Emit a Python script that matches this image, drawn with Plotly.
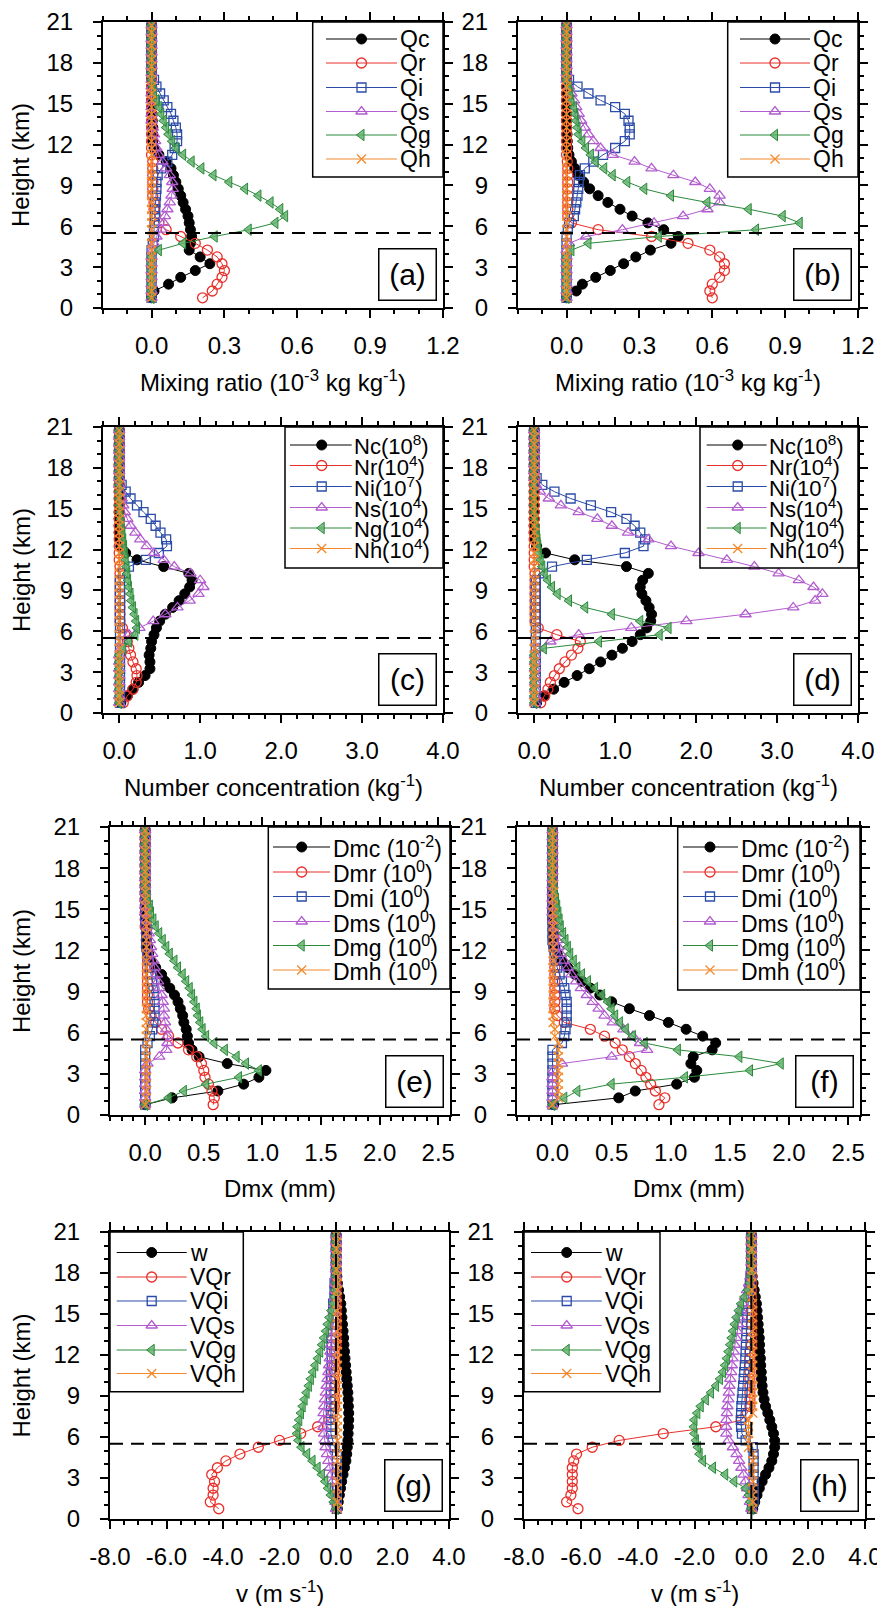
import plotly.graph_objects as go

# page geometry: the html body adds an 8 px margin, so the figure is drawn
# 8 px in from the page corner; all layout positions below are page pixels.
PAGE_W, PAGE_H = 885, 1606
OFF = 8
FW, FH = PAGE_W - OFF, PAGE_H - OFF
FONT = "Liberation Sans, Arial, Helvetica, sans-serif"


def fx(px):
    return (px - OFF) / FW


def fy(py):
    return 1 - (py - OFF) / FH


# ---------------- vertical levels (km) ----------------
heights = [0.75, 1.25, 1.75, 2.25, 2.75, 3.25, 3.75, 4.25, 4.75, 5.25,
           5.75, 6.25, 6.75, 7.25, 7.75, 8.25, 8.75, 9.25, 9.75, 10.25,
           10.75, 11.25, 11.75, 12.25, 12.75, 13.25, 13.75, 14.25, 14.75, 15.25,
           15.75, 16.25, 16.75, 17.25, 17.75, 18.25, 18.75, 19.25, 19.75, 20.25, 20.75]

# ---------------- (a) mixing ratio ----------------
qc_a = [0.00, 0.01, 0.07, 0.12, 0.18, 0.24, 0.20, 0.155, 0.16, 0.165,
        0.16, 0.155, 0.15, 0.14, 0.13, 0.12, 0.11, 0.10, 0.09, 0.08,
        0.06, 0.03, 0.01, 0.005, 0.005, 0.005, 0.003, 0.002, 0.001, 0,
        0, 0, 0, 0, 0, 0, 0, 0, 0, 0, 0]
qr_a = [0.21, 0.25, 0.27, 0.29, 0.30, 0.29, 0.27, 0.23, 0.18, 0.12,
        0.06, 0.03, 0.015, 0.01, 0.01, 0.005, 0.005, 0.005, 0.005, 0.005,
        0.005, 0, 0, 0, 0, 0, 0, 0, 0, 0,
        0, 0, 0, 0, 0, 0, 0, 0, 0, 0, 0]
qi_a = [0, 0, 0, 0, 0, 0, 0, 0, 0.005, 0.01,
        0.01, 0.012, 0.014, 0.015, 0.016, 0.018, 0.02, 0.02, 0.025, 0.04,
        0.065, 0.085, 0.095, 0.105, 0.105, 0.10, 0.09, 0.08, 0.065, 0.05,
        0.035, 0.02, 0.01, 0, 0, 0, 0, 0, 0, 0, 0]
qs_a = [0, 0, 0, 0, 0, 0, 0, 0.005, 0.01, 0.02,
        0.04, 0.05, 0.055, 0.065, 0.075, 0.082, 0.087, 0.085, 0.075, 0.06,
        0.045, 0.03, 0.02, 0.015, 0.01, 0.005, 0, 0, 0, 0,
        0, 0, 0, 0, 0, 0, 0, 0, 0, 0, 0]
qg_a = [0, 0, 0, 0, 0, 0, 0, 0.03, 0.13, 0.26,
        0.40, 0.51, 0.55, 0.53, 0.49, 0.44, 0.385, 0.32, 0.255, 0.205,
        0.165, 0.13, 0.10, 0.085, 0.07, 0.06, 0.05, 0.04, 0.03, 0.02,
        0.01, 0.005, 0, 0, 0, 0, 0, 0, 0, 0, 0]
qh_a = [0, 0, 0, 0, 0, 0, 0, 0, 0, 0,
        0, 0, 0, 0, 0, 0, 0, 0, 0, 0,
        0, 0, 0, 0, 0, 0, 0, 0, 0, 0,
        0, 0, 0, 0, 0, 0, 0, 0, 0, 0, 0]

# ---------------- (b) mixing ratio ----------------
qc_b = [0.00, 0.04, 0.065, 0.12, 0.18, 0.235, 0.285, 0.345, 0.43, 0.46,
        0.40, 0.335, 0.27, 0.22, 0.17, 0.13, 0.095, 0.07, 0.048, 0.034,
        0.02, 0.01, 0.005, 0.003, 0.002, 0.001, 0, 0, 0, 0,
        0, 0, 0, 0, 0, 0, 0, 0, 0, 0, 0]
qr_b = [0.60, 0.59, 0.60, 0.63, 0.65, 0.65, 0.63, 0.59, 0.50, 0.35,
        0.13, 0.02, 0.005, 0.005, 0.005, 0.005, 0.005, 0.005, 0.005, 0.005,
        0.003, 0, 0, 0, 0, 0, 0, 0, 0, 0,
        0, 0, 0, 0, 0, 0, 0, 0, 0, 0, 0]
qi_b = [0, 0, 0, 0, 0, 0, 0, 0, 0, 0,
        0.005, 0.01, 0.03, 0.035, 0.04, 0.045, 0.048, 0.05, 0.055, 0.075,
        0.11, 0.15, 0.20, 0.24, 0.26, 0.26, 0.255, 0.24, 0.20, 0.14,
        0.09, 0.045, 0.01, 0, 0, 0, 0, 0, 0, 0, 0]
qs_b = [0, 0, 0, 0, 0, 0, 0, 0, 0.01, 0.08,
        0.23, 0.36, 0.48, 0.58, 0.63, 0.63, 0.59, 0.53, 0.44, 0.35,
        0.28, 0.19, 0.14, 0.11, 0.09, 0.075, 0.06, 0.05, 0.04, 0.03,
        0.02, 0.01, 0, 0, 0, 0, 0, 0, 0, 0, 0]
qg_b = [0, 0, 0, 0, 0, 0, 0, 0.02, 0.09, 0.38,
        0.78, 0.96, 0.89, 0.75, 0.58, 0.43, 0.32, 0.25, 0.19, 0.155,
        0.12, 0.10, 0.08, 0.065, 0.05, 0.045, 0.04, 0.035, 0.03, 0.02,
        0.015, 0.01, 0, 0, 0, 0, 0, 0, 0, 0, 0]
qh_b = [0, 0, 0, 0, 0, 0, 0, 0, 0, 0,
        0, 0, 0, 0, 0, 0, 0, 0, 0, 0,
        0, 0, 0, 0, 0, 0, 0, 0, 0, 0,
        0, 0, 0, 0, 0, 0, 0, 0, 0, 0, 0]

# ---------------- (c) number concentration ----------------
nc_c = [0.02, 0.10, 0.17, 0.24, 0.32, 0.38, 0.38, 0.37, 0.39, 0.40,
        0.43, 0.46, 0.50, 0.57, 0.66, 0.74, 0.81, 0.87, 0.90, 0.86,
        0.55, 0.22, 0.08, 0.02, 0.01, 0, 0, 0, 0, 0,
        0, 0, 0, 0, 0, 0, 0, 0, 0, 0, 0]
nr_c = [0.05, 0.10, 0.17, 0.21, 0.22, 0.21, 0.17, 0.14, 0.12, 0.10,
        0.07, 0.04, 0.01, 0.01, 0.01, 0.01, 0.01, 0.01, 0.01, 0.01,
        0.01, 0, 0, 0, 0, 0, 0, 0, 0, 0,
        0, 0, 0, 0, 0, 0, 0, 0, 0, 0, 0]
ni_c = [0.01, 0.01, 0.01, 0.01, 0.01, 0.01, 0.01, 0.01, 0.01, 0.01,
        0.01, 0.01, 0.01, 0.01, 0.01, 0.01, 0.01, 0.01, 0.01, 0.05,
        0.12, 0.33, 0.49, 0.59, 0.58, 0.51, 0.45, 0.39, 0.30, 0.22,
        0.14, 0.08, 0.03, 0, 0, 0, 0, 0, 0, 0, 0]
ns_c = [0, 0, 0, 0, 0, 0, 0, 0, 0.02, 0.05,
        0.12, 0.25, 0.42, 0.57, 0.72, 0.87, 0.98, 1.04, 1.00, 0.88,
        0.68, 0.55, 0.43, 0.34, 0.26, 0.20, 0.14, 0.10, 0.07, 0.05,
        0.03, 0.01, 0, 0, 0, 0, 0, 0, 0, 0, 0]
ng_c = [0, 0, 0, 0, 0, 0, 0, 0, 0.05, 0.12,
        0.20, 0.22, 0.21, 0.19, 0.17, 0.15, 0.14, 0.12, 0.11, 0.10,
        0.09, 0.08, 0.07, 0.06, 0.05, 0.04, 0.03, 0.02, 0.01, 0,
        0, 0, 0, 0, 0, 0, 0, 0, 0, 0, 0]
nh_c = [0, 0, 0, 0, 0, 0, 0, 0, 0, 0,
        0, 0, 0, 0, 0, 0, 0, 0, 0, 0,
        0, 0, 0, 0, 0, 0, 0, 0, 0, 0,
        0, 0, 0, 0, 0, 0, 0, 0, 0, 0, 0]

# ---------------- (d) number concentration ----------------
nc_d = [0.03, 0.12, 0.24, 0.37, 0.53, 0.68, 0.82, 0.96, 1.09, 1.21,
        1.31, 1.39, 1.44, 1.45, 1.42, 1.38, 1.33, 1.31, 1.34, 1.41,
        1.14, 0.50, 0.14, 0.03, 0.01, 0, 0, 0, 0, 0,
        0, 0, 0, 0, 0, 0, 0, 0, 0, 0, 0]
nr_d = [0.08, 0.13, 0.17, 0.20, 0.25, 0.31, 0.38, 0.46, 0.54, 0.57,
        0.28, 0.05, 0.01, 0.01, 0.01, 0.01, 0.01, 0.01, 0.01, 0.01,
        0, 0, 0, 0, 0, 0, 0, 0, 0, 0,
        0, 0, 0, 0, 0, 0, 0, 0, 0, 0, 0]
ni_d = [0.02, 0.02, 0.02, 0.02, 0.02, 0.02, 0.02, 0.02, 0.02, 0.02,
        0.02, 0.02, 0.02, 0.02, 0.02, 0.02, 0.02, 0.02, 0.02, 0.06,
        0.22, 0.65, 1.12, 1.35, 1.37, 1.31, 1.24, 1.14, 0.95, 0.70,
        0.45, 0.25, 0.10, 0.03, 0, 0, 0, 0, 0, 0, 0]
ns_d = [0.01, 0.01, 0.01, 0.01, 0.01, 0.01, 0.01, 0.01, 0.05, 0.20,
        0.55, 1.20, 1.88, 2.61, 3.20, 3.47, 3.56, 3.45, 3.27, 3.02,
        2.72, 2.38, 2.03, 1.69, 1.41, 1.16, 0.96, 0.78, 0.55, 0.33,
        0.18, 0.07, 0.02, 0, 0, 0, 0, 0, 0, 0, 0]
ng_d = [0, 0, 0, 0, 0, 0, 0, 0, 0.12, 0.80,
        1.55, 1.66, 1.31, 0.96, 0.63, 0.43, 0.29, 0.22, 0.17, 0.13,
        0.10, 0.08, 0.06, 0.05, 0.04, 0.03, 0.02, 0.01, 0, 0,
        0, 0, 0, 0, 0, 0, 0, 0, 0, 0, 0]
nh_d = [0, 0, 0, 0, 0, 0, 0, 0, 0, 0,
        0, 0, 0, 0, 0, 0, 0, 0, 0, 0,
        0, 0, 0, 0, 0, 0, 0, 0, 0, 0,
        0, 0, 0, 0, 0, 0, 0, 0, 0, 0, 0]

# ---------------- (e) mean diameter ----------------
dmc_e = [0.00, 0.23, 0.62, 0.84, 0.97, 1.03, 0.70, 0.46, 0.40, 0.37,
         0.36, 0.35, 0.33, 0.32, 0.30, 0.28, 0.25, 0.21, 0.17, 0.14,
         0.09, 0.05, 0.03, 0.02, 0.01, 0.01, 0.01, 0.01, 0.01, 0.01,
         0, 0, 0, 0, 0, 0, 0, 0, 0, 0, 0]
dmr_e = [0.58, 0.59, 0.57, 0.54, 0.51, 0.50, 0.48, 0.44, 0.37, 0.28,
         0.20, 0.14, 0.09, 0.05, 0.03, 0.02, 0.02, 0.02, 0.02, 0.02,
         0.02, 0.02, 0.02, 0.01, 0.01, 0.01, 0, 0, 0, 0,
         0, 0, 0, 0, 0, 0, 0, 0, 0, 0, 0]
dmi_e = [0, 0, 0, 0, 0, 0, 0, 0, 0, 0.02,
         0.04, 0.06, 0.07, 0.08, 0.08, 0.08, 0.075, 0.07, 0.06, 0.05,
         0.04, 0.03, 0.02, 0.01, 0.01, 0.01, 0.01, 0, 0, 0,
         0, 0, 0, 0, 0, 0, 0, 0, 0, 0, 0]
dms_e = [0, 0, 0, 0, 0, 0, 0.02, 0.12, 0.18, 0.19,
         0.19, 0.18, 0.17, 0.16, 0.16, 0.15, 0.14, 0.12, 0.11, 0.10,
         0.08, 0.07, 0.06, 0.05, 0.04, 0.03, 0.02, 0.01, 0, 0,
         0, 0, 0, 0, 0, 0, 0, 0, 0, 0, 0]
dmg_e = [0.00, 0.20, 0.33, 0.52, 0.80, 0.97, 0.86, 0.78, 0.68, 0.59,
         0.52, 0.49, 0.47, 0.45, 0.44, 0.42, 0.40, 0.38, 0.35, 0.32,
         0.28, 0.25, 0.21, 0.18, 0.15, 0.12, 0.09, 0.07, 0.05, 0.04,
         0.02, 0.01, 0, 0, 0, 0, 0, 0, 0, 0, 0]
dmh_e = [0, 0.01, 0.01, 0.01, 0.01, 0.01, 0.01, 0.01, 0.01, 0.01,
         0.01, 0.01, 0.01, 0.01, 0.01, 0.01, 0.01, 0.01, 0.01, 0.01,
         0.01, 0.01, 0.01, 0.01, 0.01, 0.01, 0.01, 0.01, 0.01, 0,
         0, 0, 0, 0, 0, 0, 0, 0, 0, 0, 0]

# ---------------- (f) mean diameter ----------------
dmc_f = [0.01, 0.56, 0.70, 1.05, 1.20, 1.22, 1.17, 1.19, 1.35, 1.38,
         1.27, 1.13, 0.98, 0.82, 0.65, 0.50, 0.40, 0.32, 0.25, 0.19,
         0.13, 0.08, 0.04, 0.02, 0.01, 0.01, 0.01, 0.01, 0.01, 0.01,
         0.01, 0, 0, 0, 0, 0, 0, 0, 0, 0, 0]
dmr_f = [0.90, 0.95, 0.87, 0.83, 0.79, 0.75, 0.70, 0.65, 0.59, 0.53,
         0.44, 0.32, 0.10, 0.04, 0.02, 0.02, 0.02, 0.02, 0.02, 0.02,
         0.02, 0.02, 0.02, 0.01, 0.01, 0.01, 0.01, 0, 0, 0,
         0, 0, 0, 0, 0, 0, 0, 0, 0, 0, 0]
dmi_f = [0, 0, 0, 0, 0, 0, 0, 0, 0, 0.08,
         0.10, 0.11, 0.12, 0.12, 0.12, 0.12, 0.11, 0.10, 0.08, 0.06,
         0.04, 0.03, 0.02, 0.01, 0, 0, 0, 0, 0, 0,
         0, 0, 0, 0, 0, 0, 0, 0, 0, 0, 0]
dms_f = [0, 0, 0, 0, 0, 0.01, 0.08, 0.50, 0.80, 0.74,
         0.68, 0.60, 0.51, 0.44, 0.39, 0.34, 0.29, 0.24, 0.20, 0.16,
         0.13, 0.10, 0.07, 0.05, 0.04, 0.03, 0.02, 0.01, 0, 0,
         0, 0, 0, 0, 0, 0, 0, 0, 0, 0, 0]
dmg_f = [0.00, 0.10, 0.21, 0.50, 1.12, 1.67, 1.93, 1.58, 1.06, 0.78,
         0.68, 0.62, 0.57, 0.53, 0.50, 0.47, 0.42, 0.36, 0.30, 0.25,
         0.21, 0.18, 0.15, 0.13, 0.11, 0.09, 0.07, 0.06, 0.05, 0.04,
         0.03, 0.02, 0.01, 0, 0, 0, 0, 0, 0, 0, 0]
dmh_f = [0.00, 0.05, 0.05, 0.05, 0.05, 0.05, 0.05, 0.05, 0.05, 0.05,
         0.02, 0.02, 0.005, 0.005, 0.005, 0.005, 0.005, 0.005, 0.005, 0.005,
         0.005, 0.005, 0.005, 0.005, 0.005, 0.005, 0.005, 0.005, 0.005, 0.005,
         0.005, 0.005, 0.005, 0, 0, 0, 0, 0, 0, 0, 0]

# ---------------- (g) velocities ----------------
w_g = [0.05, 0.08, 0.12, 0.16, 0.20, 0.25, 0.30, 0.35, 0.38, 0.40,
       0.42, 0.43, 0.44, 0.45, 0.45, 0.44, 0.43, 0.42, 0.40, 0.38,
       0.36, 0.34, 0.32, 0.30, 0.28, 0.27, 0.25, 0.23, 0.21, 0.19,
       0.17, 0.13, 0.09, 0.05, 0.03, 0.01, 0.01, 0.01, 0.01, 0.01, 0.01]
vqr_g = [-4.15, -4.45, -4.35, -4.35, -4.30, -4.40, -4.20, -3.90, -3.40, -2.75,
         -2.00, -1.25, -0.65, -0.25, -0.10, -0.05, -0.05, -0.05, -0.05, -0.05,
         -0.05, -0.05, -0.05, -0.05, 0, 0, 0, 0, 0, 0,
         0, 0, 0, 0, 0, 0, 0, 0, 0, 0, 0]
vqi_g = [0.03, 0.03, 0.03, 0.03, 0.03, 0.03, 0.03, 0.03, 0.03, -0.05,
         -0.12, -0.18, -0.18, -0.18, -0.18, -0.18, -0.18, -0.18, -0.18, -0.18,
         -0.18, -0.15, -0.15, -0.15, -0.15, -0.15, -0.15, -0.10, -0.10, -0.10,
         -0.10, -0.05, -0.05, -0.05, 0, 0, 0, 0, 0, 0, 0]
vqs_g = [0.00, -0.02, -0.05, -0.08, -0.12, -0.17, -0.22, -0.27, -0.32, -0.37,
         -0.40, -0.42, -0.44, -0.44, -0.44, -0.42, -0.39, -0.36, -0.33, -0.30,
         -0.27, -0.24, -0.22, -0.20, -0.18, -0.16, -0.14, -0.12, -0.10, -0.08,
         -0.06, -0.04, -0.03, -0.02, -0.01, 0, 0, 0, 0, 0, 0]
vqg_g = [0.00, -0.08, -0.18, -0.28, -0.38, -0.50, -0.65, -0.83, -1.02, -1.22,
         -1.33, -1.38, -1.36, -1.30, -1.24, -1.18, -1.11, -1.04, -0.96, -0.89,
         -0.81, -0.73, -0.64, -0.56, -0.49, -0.42, -0.35, -0.29, -0.23, -0.16,
         -0.09, -0.05, -0.02, 0, 0, 0, 0, 0, 0, 0, 0]
vqh_g = [0.05, 0.05, 0.05, 0.05, 0.05, 0.05, 0.05, 0.05, 0.05, 0.05,
         0.05, 0.05, 0.05, 0.05, 0.05, 0.05, 0.05, 0.05, 0.05, 0.05,
         0.05, 0.05, 0.05, 0.05, 0.05, 0.05, 0.05, 0.05, 0.05, 0.05,
         0.05, 0.05, 0.05, 0.05, 0.05, 0.02, 0.02, 0.02, 0.02, 0.02, 0.02]

# ---------------- (h) velocities ----------------
w_h = [0.05, 0.12, 0.20, 0.28, 0.38, 0.50, 0.62, 0.72, 0.78, 0.82,
       0.82, 0.78, 0.72, 0.65, 0.58, 0.50, 0.45, 0.41, 0.38, 0.36,
       0.35, 0.33, 0.32, 0.30, 0.29, 0.28, 0.26, 0.24, 0.22, 0.20,
       0.18, 0.14, 0.10, 0.06, 0.03, 0.01, 0.01, 0.01, 0.01, 0.01, 0.01]
vqr_h = [-6.10, -6.50, -6.35, -6.30, -6.30, -6.30, -6.30, -6.25, -6.15, -5.60,
         -4.65, -3.10, -1.25, -0.35, -0.15, -0.05, -0.05, -0.05, -0.05, -0.05,
         -0.05, -0.05, -0.05, -0.05, 0, 0, 0, 0, 0, 0,
         0, 0, 0, 0, 0, 0, 0, 0, 0, 0, 0]
vqi_h = [0.02, 0.08, 0.08, 0.08, 0.08, 0.08, 0.08, 0.08, 0.08, 0.05,
         -0.20, -0.33, -0.36, -0.37, -0.36, -0.35, -0.33, -0.31, -0.29, -0.27,
         -0.25, -0.23, -0.21, -0.20, -0.19, -0.18, -0.17, -0.16, -0.15, -0.14,
         -0.12, -0.10, -0.08, -0.05, -0.03, 0, 0, 0, 0, 0, 0]
vqs_h = [0.00, -0.05, -0.10, -0.15, -0.20, -0.27, -0.35, -0.43, -0.52, -0.65,
         -0.80, -0.88, -0.89, -0.88, -0.86, -0.84, -0.81, -0.79, -0.77, -0.74,
         -0.71, -0.69, -0.66, -0.62, -0.58, -0.54, -0.50, -0.46, -0.42, -0.36,
         -0.29, -0.22, -0.15, -0.08, -0.03, 0, 0, 0, 0, 0, 0]
vqg_h = [0.00, -0.03, -0.08, -0.20, -0.60, -0.92, -1.35, -1.70, -1.82, -1.88,
         -1.95, -2.00, -2.02, -2.00, -1.90, -1.78, -1.60, -1.42, -1.24, -1.10,
         -1.00, -0.92, -0.86, -0.80, -0.74, -0.69, -0.64, -0.58, -0.52, -0.44,
         -0.36, -0.24, -0.12, -0.05, -0.02, 0, 0, 0, 0, 0, 0]
vqh_h = [0.05, 0.05, 0.05, 0.05, 0.05, 0.05, 0.05, 0.05, 0.05, -0.10,
         -0.10, -0.10, -0.10, -0.10, 0.05, 0.05, 0.05, 0.05, 0.05, 0.05,
         0.05, 0.05, 0.05, 0.05, 0.05, 0.05, 0.05, 0.05, 0.05, 0.05,
         0.05, 0.02, 0.02, 0.02, 0.02, 0.02, 0.02, 0.02, 0.02, 0.02, 0.02]

# ---------------- labels and ticks ----------------
labels_q = ["Qc", "Qr", "Qi", "Qs", "Qg", "Qh"]
labels_n = ["Nc(10<sup>8</sup>)", "Nr(10<sup>4</sup>)", "Ni(10<sup>7</sup>)",
            "Ns(10<sup>4</sup>)", "Ng(10<sup>4</sup>)", "Nh(10<sup>4</sup>)"]
labels_d = ["Dmc (10<sup>-2</sup>)", "Dmr (10<sup>0</sup>)", "Dmi (10<sup>0</sup>)",
            "Dms (10<sup>0</sup>)", "Dmg (10<sup>0</sup>)", "Dmh (10<sup>0</sup>)"]
labels_v = ["w", "VQr", "VQi", "VQs", "VQg", "VQh"]

xt_q = [0.0, 0.3, 0.6, 0.9, 1.2]
xl_q = ["0.0", "0.3", "0.6", "0.9", "1.2"]
xt_n = [0.0, 1.0, 2.0, 3.0, 4.0]
xl_n = ["0.0", "1.0", "2.0", "3.0", "4.0"]
xt_d = [0.0, 0.5, 1.0, 1.5, 2.0, 2.5]
xl_d = ["0.0", "0.5", "1.0", "1.5", "2.0", "2.5"]
xt_v = [-8, -6, -4, -2, 0, 2, 4]
xl_v = ["-8.0", "-6.0", "-4.0", "-2.0", "0.0", "2.0", "4.0"]
yt = [0, 3, 6, 9, 12, 15, 18, 21]
yl = ["0", "3", "6", "9", "12", "15", "18", "21"]

title_q = "Mixing ratio (10<sup>-3</sup> kg kg<sup>-1</sup>)"
title_n = "Number concentration (kg<sup>-1</sup>)"
title_d = "Dmx (mm)"
title_v = "v (m s<sup>-1</sup>)"

# ---------------- styles ----------------
STYLES = [
    dict(c="#000000", sym="circle", fill="#000000", size=10),
    dict(c="#e8302a", sym="circle-open", fill=None, size=10),
    dict(c="#2b4ba8", sym="square-open", fill=None, size=9),
    dict(c="#b35ccf", sym="triangle-up-open", fill=None, size=10),
    dict(c="#2a8a3a", sym="triangle-left", fill="rgba(95,175,105,0.8)", size=10),
    dict(c="#f3892c", sym="x-thin-open", fill=None, size=9),
]


def marker_of(st):
    if st["fill"] is not None:
        return dict(symbol=st["sym"], size=st["size"], color=st["fill"],
                    line=dict(color=st["c"], width=1))
    return dict(symbol=st["sym"], size=st["size"], color=st["c"],
                line=dict(color=st["c"], width=1.3))


# panel layout (page-pixel boxes) and legend geometry
rows_ab = [39, 63, 87.5, 111.5, 135, 159]
rows_cd = [445, 465.5, 486.5, 507.5, 528, 548.5]
rows_ef = [847, 872, 896.5, 921.5, 945.5, 970]
rows_gh = [1252.5, 1277, 1301, 1325.5, 1350, 1373.5]

panels = [
    dict(tag="(a)", box=(103, 443, 22, 308), xr=[-0.2, 1.2], xt=xt_q, xl=xl_q, minor=0.1,
         series=[qc_a, qr_a, qi_a, qs_a, qg_a, qh_a], labels=labels_q, title=title_q, lfs=23,
         leg=dict(box=(312.7, 443, 22, 177), rows=rows_ab, line=(326, 397), mk=361.5, tx=398)),
    dict(tag="(b)", box=(518, 858, 22, 308), xr=[-0.2, 1.2], xt=xt_q, xl=xl_q, minor=0.1,
         series=[qc_b, qr_b, qi_b, qs_b, qg_b, qh_b], labels=labels_q, title=title_q, lfs=23,
         leg=dict(box=(727.7, 858, 22, 177), rows=rows_ab, line=(740, 810), mk=775, tx=811)),
    dict(tag="(c)", box=(103, 443, 427, 713), xr=[-0.2, 4.0], xt=xt_n, xl=xl_n, minor=0.2,
         series=[nc_c, nr_c, ni_c, ns_c, ng_c, nh_c], labels=labels_n, title=title_n, lfs=22,
         leg=dict(box=(285, 443, 427, 568), rows=rows_cd, line=(290, 351.7), mk=321.7, tx=352)),
    dict(tag="(d)", box=(518, 858, 427, 713), xr=[-0.2, 4.0], xt=xt_n, xl=xl_n, minor=0.2,
         series=[nc_d, nr_d, ni_d, ns_d, ng_d, nh_d], labels=labels_n, title=title_n, lfs=22,
         leg=dict(box=(700, 858, 427, 568), rows=rows_cd, line=(706.7, 766.7), mk=737.7, tx=767)),
    dict(tag="(e)", box=(110, 450, 827, 1115), xr=[-0.3, 2.6], xt=xt_d, xl=xl_d, minor=0.1,
         series=[dmc_e, dmr_e, dmi_e, dms_e, dmg_e, dmh_e], labels=labels_d, title=title_d, lfs=23,
         leg=dict(box=(268.3, 450, 827, 989), rows=rows_ef, line=(273, 330), mk=301.7, tx=330.5)),
    dict(tag="(f)", box=(517, 860, 827, 1115), xr=[-0.3, 2.6], xt=xt_d, xl=xl_d, minor=0.1,
         series=[dmc_f, dmr_f, dmi_f, dms_f, dmg_f, dmh_f], labels=labels_d, title=title_d, lfs=23,
         leg=dict(box=(677.7, 860, 827, 990), rows=rows_ef, line=(683, 738), mk=710, tx=738.5)),
    dict(tag="(g)", box=(110, 449, 1232, 1519), xr=[-8, 4], xt=xt_v, xl=xl_v, minor=0.5,
         series=[w_g, vqr_g, vqi_g, vqs_g, vqg_g, vqh_g], labels=labels_v, title=title_v, zero=True, lfs=23,
         leg=dict(box=(110, 243.3, 1232, 1391.7), rows=rows_gh, line=(116.7, 186.7), mk=151.7, tx=187.5)),
    dict(tag="(h)", box=(524, 865, 1232, 1519), xr=[-8, 4], xt=xt_v, xl=xl_v, minor=0.5,
         series=[w_h, vqr_h, vqi_h, vqs_h, vqg_h, vqh_h], labels=labels_v, title=title_v, zero=True, lfs=23,
         leg=dict(box=(524, 660, 1232, 1391.7), rows=rows_gh, line=(531, 601.7), mk=566.7, tx=602.5)),
]

fig = go.Figure()
layout = dict(width=FW, height=FH, margin=dict(l=0, r=0, t=0, b=0, pad=0, autoexpand=False),
              autosize=False, template="none",
              paper_bgcolor="white", plot_bgcolor="white", showlegend=False,
              font=dict(family=FONT, size=24, color="black"))
shapes = []
annotations = []

AX_COMMON = dict(ticks="outside", ticklen=8, tickwidth=2, tickcolor="black",
                 showline=True, linewidth=2, linecolor="black", mirror="ticks",
                 showgrid=False, zeroline=False, automargin=False,
                 tickfont=dict(family=FONT, size=24, color="black"))

NP = len(panels)
for k, p in enumerate(panels, start=1):
    x0, x1, y0, y1 = p["box"]
    xa = "x" if k == 1 else f"x{k}"
    ya = "y" if k == 1 else f"y{k}"
    xk = "xaxis" if k == 1 else f"xaxis{k}"
    yk = "yaxis" if k == 1 else f"yaxis{k}"
    layout[xk] = dict(domain=[fx(x0), fx(x1)], anchor=ya, range=p["xr"],
                      tickmode="array", tickvals=p["xt"], ticktext=p["xl"],
                      ticklabelstandoff=7,
                      minor=dict(tickmode="linear", tick0=0, dtick=p["minor"], ticks="outside",
                                 ticklen=4, tickwidth=1.5, tickcolor="black", showgrid=False),
                      **AX_COMMON)
    layout[yk] = dict(domain=[fy(y1), fy(y0)], anchor=xa, range=[0, 21],
                      tickmode="array", tickvals=yt, ticktext=yl,
                      ticklabelstandoff=15,
                      minor=dict(tickmode="linear", tick0=0, dtick=1, ticks="outside",
                                 ticklen=4, tickwidth=1.5, tickcolor="black", showgrid=False),
                      **AX_COMMON)
    # overlay axes in page-pixel units for legend / label placement
    o = k + NP
    layout[f"xaxis{o}"] = dict(overlaying=xa, anchor=f"y{o}", range=[x0, x1], visible=False,
                               showgrid=False, zeroline=False, automargin=False)
    layout[f"yaxis{o}"] = dict(overlaying=ya, anchor=f"x{o}", range=[y1, y0], visible=False,
                               showgrid=False, zeroline=False, automargin=False)

    # data traces
    for j, (vals, lab) in enumerate(zip(p["series"], p["labels"])):
        st = STYLES[j]
        fig.add_trace(go.Scatter(x=vals, y=heights, xaxis=xa, yaxis=ya,
                                 mode="lines+markers", name=lab.split("(")[0].strip(),
                                 line=dict(color=st["c"], width=1),
                                 marker=marker_of(st), showlegend=False, hoverinfo="skip"))

    # melting level dashed line
    shapes.append(dict(type="line", xref=f"{xa} domain", yref=ya, x0=0, x1=1, y0=5.5, y1=5.5,
                       line=dict(color="black", width=2, dash="13px,8px"), layer="above"))
    if p.get("zero"):
        shapes.append(dict(type="line", xref=xa, yref=f"{ya} domain", x0=0, x1=0, y0=0, y1=1,
                           line=dict(color="black", width=2, dash="13px,8px"), layer="above"))

    # custom legend
    lg = p["leg"]
    bx0, bx1, by0, by1 = lg["box"]
    shapes.append(dict(type="rect", xref=f"x{o}", yref=f"y{o}", x0=bx0, x1=bx1, y0=by0, y1=by1,
                       line=dict(color="black", width=1.5), fillcolor="rgba(0,0,0,0)",
                       layer="above"))
    for j, (lab, ry) in enumerate(zip(p["labels"], lg["rows"])):
        st = STYLES[j]
        fig.add_trace(go.Scatter(x=[lg["line"][0], lg["line"][1]], y=[ry, ry],
                                 xaxis=f"x{o}", yaxis=f"y{o}", mode="lines",
                                 line=dict(color=st["c"], width=1), showlegend=False,
                                 hoverinfo="skip", cliponaxis=False))
        fig.add_trace(go.Scatter(x=[lg["mk"]], y=[ry], xaxis=f"x{o}", yaxis=f"y{o}",
                                 mode="markers", marker=marker_of(st), showlegend=False,
                                 hoverinfo="skip", cliponaxis=False))
        annotations.append(dict(xref=f"x{o}", yref=f"y{o}", x=lg["tx"], y=ry, text=lab,
                                xanchor="left", yanchor="middle", showarrow=False,
                                font=dict(family=FONT, size=p["lfs"], color="black")))

    # panel tag box
    annotations.append(dict(xref=f"x{o}", yref=f"y{o}", x=x1 - 6.5, y=y1 - 7, text=p["tag"],
                            xanchor="right", yanchor="bottom", showarrow=False,
                            font=dict(family=FONT, size=30, color="black"),
                            bordercolor="black", borderwidth=1.5, borderpad=2,
                            bgcolor="white", width=52, height=46, align="center", valign="middle"))

    # x-axis title
    annotations.append(dict(xref="paper", yref="paper", x=fx((x0 + x1) / 2), y=fy(y1 + 73),
                            text=p["title"], xanchor="center", yanchor="middle", showarrow=False,
                            font=dict(family=FONT, size=24, color="black")))
    # y-axis title (left column only)
    if k % 2 == 1:
        annotations.append(dict(xref="paper", yref="paper", x=fx(21), y=fy((y0 + y1) / 2),
                                text="Height (km)", textangle=-90, xanchor="center",
                                yanchor="middle", showarrow=False,
                                font=dict(family=FONT, size=24, color="black")))

layout["shapes"] = shapes
layout["annotations"] = annotations
fig.update_layout(**layout)
fig.write_html("out.html")
